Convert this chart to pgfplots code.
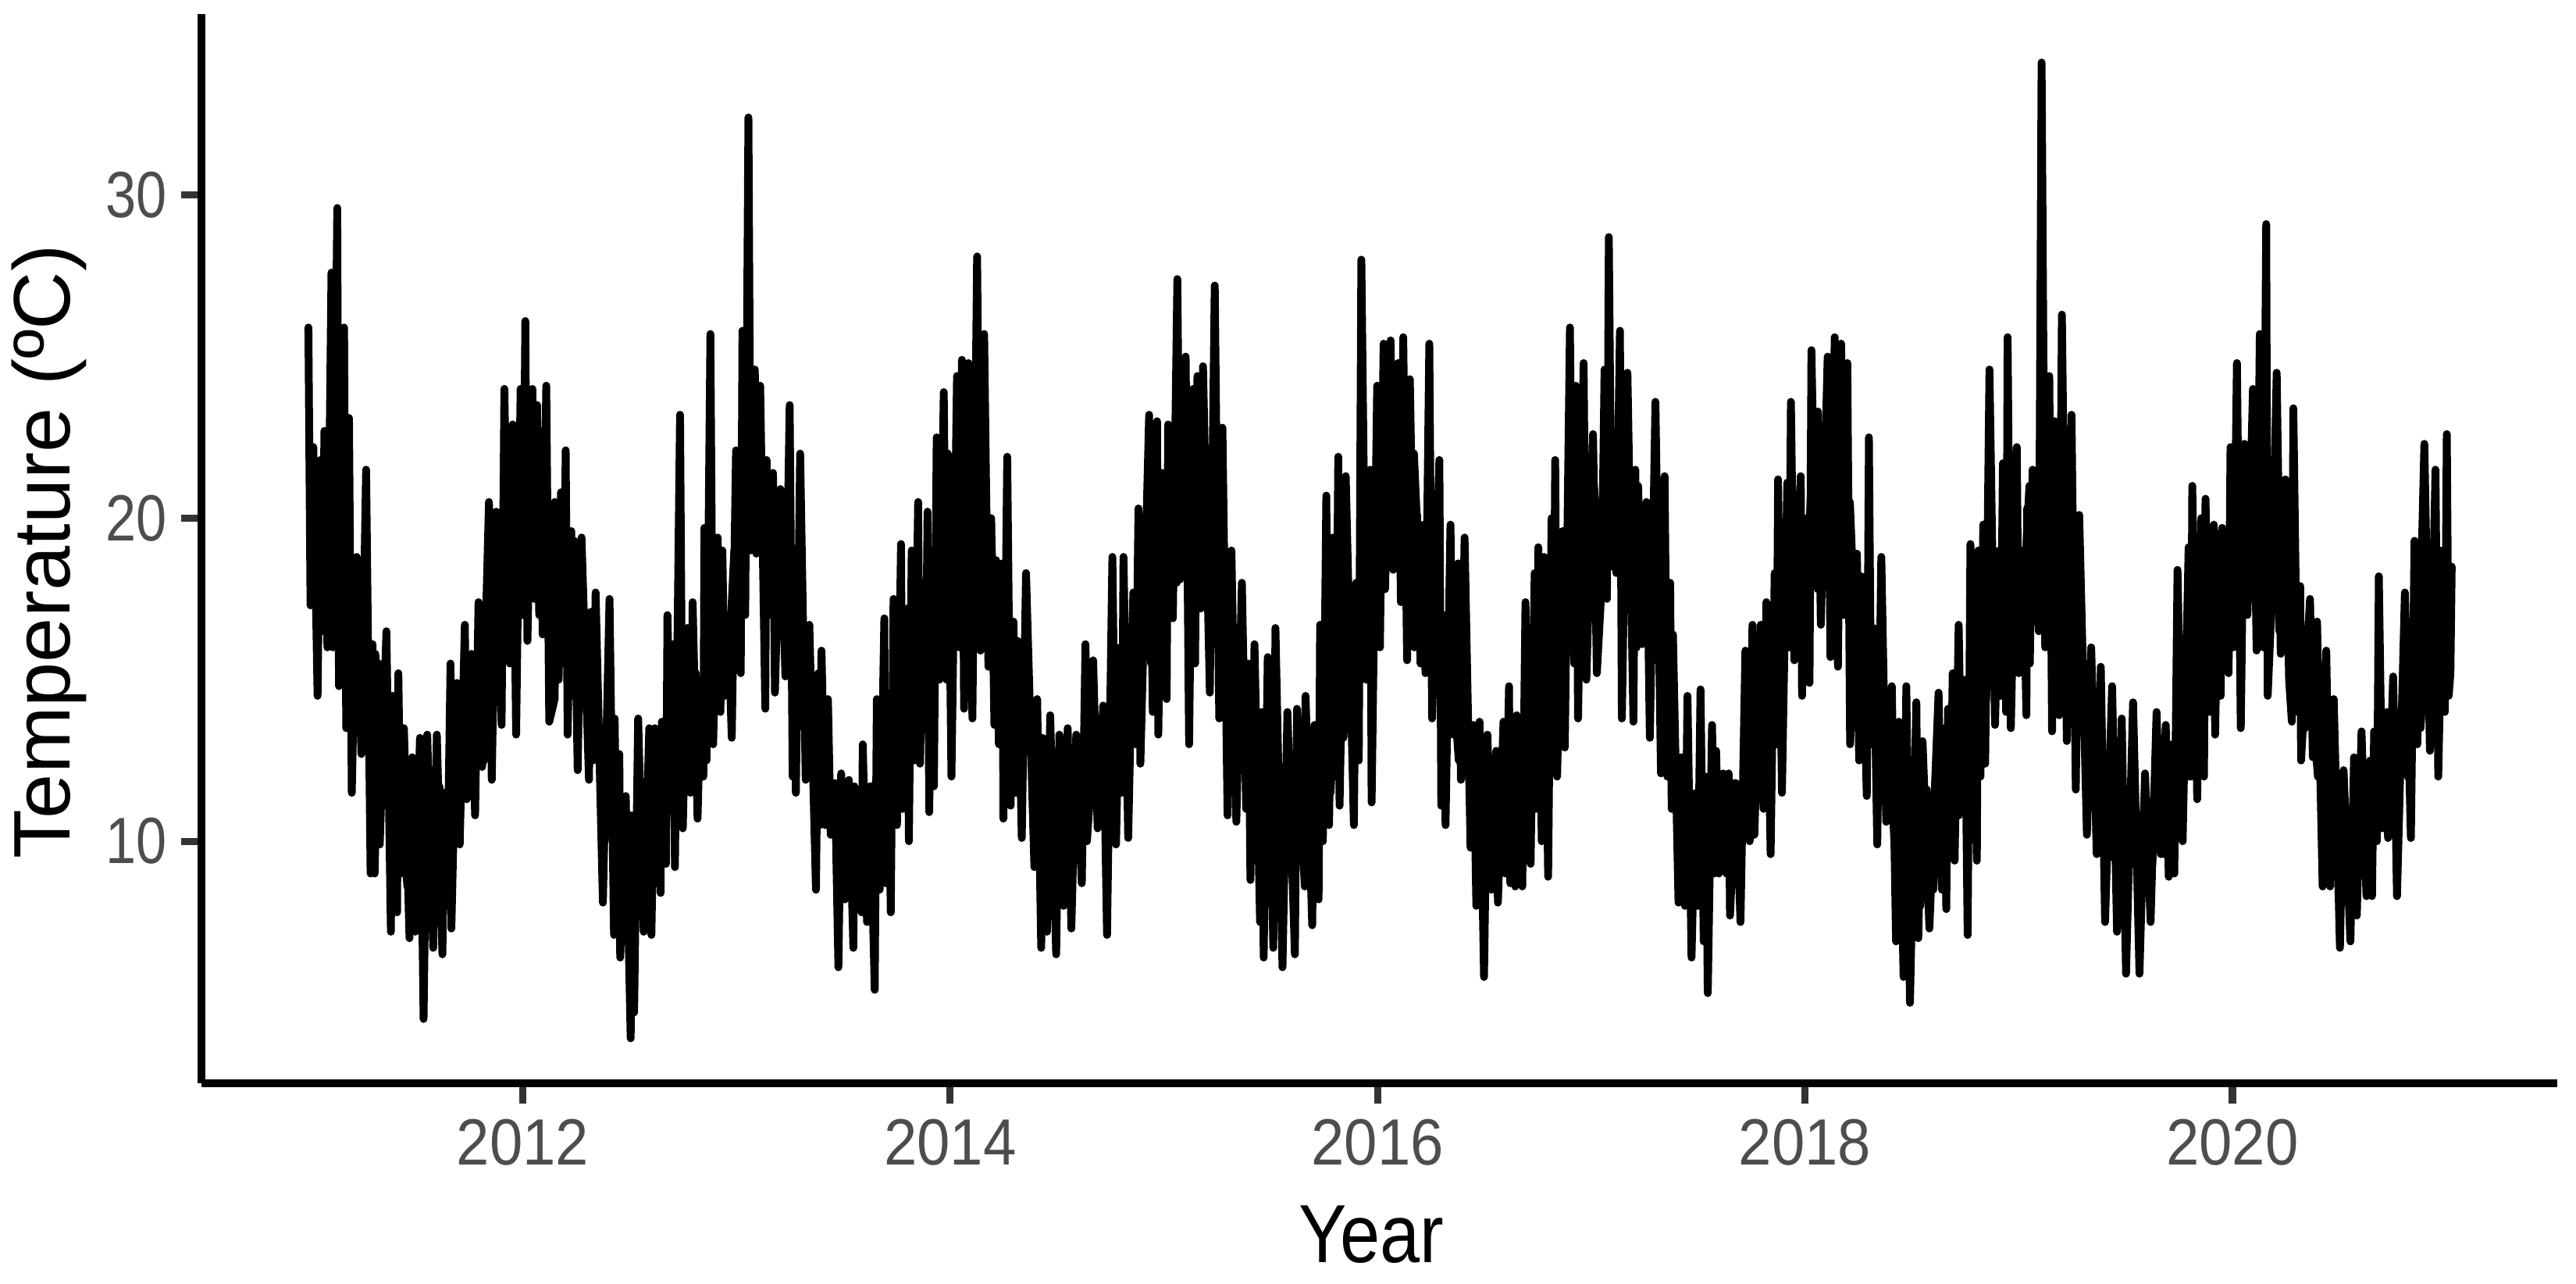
\documentclass[border=0pt]{standalone}
\usepackage{fontspec}
\setmainfont{Liberation Sans}
\usepackage{pgfplots}
\pgfplotsset{compat=1.18}
\definecolor{tickgrey}{HTML}{333333}
\definecolor{labelgrey}{HTML}{4D4D4D}
\begin{document}
\begin{tikzpicture}
\useasboundingbox (-64.5bp,-64.25bp) rectangle (760.25bp,346.75bp);
\begin{axis}[
    scale only axis,
    width=754.25bp, height=342.25bp,
    xmin=2010.4966, xmax=2021.52,
    ymin=2.51, ymax=35.6,
    axis lines*=left,
    axis line style={-, line width=2.6bp, black},
    xtick={2012,2014,2016,2018,2020},
    ytick={10,20,30},
    tick align=outside,
    major tick length=6.5bp,
    tick style={color=tickgrey, line width=2.3bp},
    /pgf/number format/assume math mode=true,
    /pgf/number format/1000 sep={},
    x tick label style={font=\fontsize{21}{21}\selectfont, text=labelgrey, xscale=0.91, yshift=-1.5bp},
    y tick label style={font=\fontsize{21}{21}\selectfont, text=labelgrey, xscale=0.84, xshift=-2bp},
    xlabel={Year},
    ylabel={Temperature (ºC)},
    xlabel style={font=\fontsize{26.5}{26.5}\selectfont, at={(rel axis cs:0.4965,-0.168)}, anchor=base, xscale=0.87},
    ylabel style={font=\fontsize{25.8}{25.8}\selectfont, at={(rel axis cs:-0.056,0.497)}, anchor=base},
]
% extremes of the daily trace
\addplot[black, line width=2.5bp, line join=round, line cap=round] coordinates {
(2010.997,25.9)(2011.007,17.3)(2011.020,22.2)(2011.040,14.5)(2011.053,21.8)(2011.062,16.5)(2011.072,22.7)(2011.086,16.0)
(2011.105,27.6)(2011.112,16.0)(2011.132,29.6)(2011.140,14.8)(2011.164,25.9)(2011.174,13.5)(2011.187,23.1)(2011.200,11.5)
(2011.223,18.8)(2011.245,12.7)(2011.267,21.5)(2011.288,9.0)(2011.297,16.1)(2011.307,9.0)(2011.327,15.5)(2011.331,9.9)
(2011.362,16.5)(2011.383,7.2)(2011.392,14.5)(2011.412,7.8)(2011.418,15.2)(2011.430,9.0)(2011.444,13.5)(2011.470,7.0)
(2011.483,12.6)(2011.497,7.2)(2011.519,13.2)(2011.536,4.5)(2011.553,13.3)(2011.581,6.7)(2011.598,13.3)(2011.624,6.5)
(2011.634,11.5)(2011.646,8.0)(2011.662,15.5)(2011.666,7.3)(2011.692,14.9)(2011.705,9.9)(2011.729,16.7)(2011.738,11.3)
(2011.760,15.8)(2011.777,10.8)(2011.793,17.4)(2011.810,12.3)(2011.842,20.5)(2011.855,11.9)(2011.876,20.2)(2011.901,13.6)
(2011.914,24.0)(2011.934,15.6)(2011.953,22.9)(2011.969,13.3)(2011.990,24.0)(2012.001,17.0)(2012.012,26.1)(2012.022,16.2)
(2012.045,24.0)(2012.054,17.5)(2012.067,23.5)(2012.077,17.0)(2012.084,22.7)(2012.093,16.4)(2012.110,24.1)(2012.124,13.7)
(2012.149,14.4)(2012.162,19.6)(2012.168,15.0)(2012.179,20.8)(2012.190,15.5)(2012.201,22.1)(2012.210,13.3)(2012.227,19.6)
(2012.234,14.5)(2012.240,19.3)(2012.257,12.2)(2012.275,19.4)(2012.310,11.9)(2012.319,17.1)(2012.329,12.5)(2012.341,17.7)
(2012.375,8.1)(2012.406,17.5)(2012.427,7.1)(2012.430,13.8)(2012.443,7.5)(2012.452,12.7)(2012.456,6.4)(2012.482,11.4)
(2012.505,3.9)(2012.514,10.7)(2012.521,4.7)(2012.540,13.8)(2012.566,7.2)(2012.592,13.5)(2012.602,7.1)(2012.618,13.5)
(2012.645,8.4)(2012.651,13.7)(2012.670,9.3)(2012.677,17.0)(2012.697,11.0)(2012.705,16.1)(2012.712,9.2)(2012.736,23.2)
(2012.749,10.4)(2012.769,16.6)(2012.785,11.5)(2012.795,17.4)(2012.818,10.7)(2012.834,15.0)(2012.845,12.0)(2012.850,19.7)
(2012.860,12.5)(2012.878,25.7)(2012.891,13.0)(2012.912,19.4)(2012.925,14.0)(2012.934,19.0)(2012.945,14.5)(2012.960,17.0)
(2012.978,13.2)(2012.998,22.1)(2013.020,15.2)(2013.028,25.8)(2013.041,17.0)(2013.056,32.4)(2013.067,19.0)(2013.086,24.6)
(2013.093,18.9)(2013.111,24.1)(2013.135,14.1)(2013.141,21.8)(2013.154,17.0)(2013.171,21.4)(2013.180,14.6)(2013.206,20.9)
(2013.229,15.1)(2013.249,23.5)(2013.263,12.0)(2013.270,18.0)(2013.278,11.5)(2013.298,22.0)(2013.324,11.9)(2013.341,16.7)
(2013.372,8.5)(2013.383,15.2)(2013.390,10.5)(2013.398,15.9)(2013.415,10.5)(2013.428,14.4)(2013.441,10.2)(2013.461,11.8)
(2013.477,6.1)(2013.490,12.1)(2013.507,8.2)(2013.526,11.9)(2013.547,6.7)(2013.552,11.7)(2013.585,7.8)(2013.591,13.0)
(2013.611,7.5)(2013.624,11.7)(2013.647,5.4)(2013.657,14.4)(2013.670,8.5)(2013.692,16.9)(2013.698,8.7)(2013.710,14.0)
(2013.722,7.8)(2013.735,17.5)(2013.751,10.5)(2013.770,19.2)(2013.777,11.0)(2013.798,17.2)(2013.807,10.0)(2013.820,19.0)
(2013.833,12.5)(2013.850,20.5)(2013.859,12.4)(2013.875,18.0)(2013.885,13.5)(2013.894,20.2)(2013.902,10.9)(2013.915,18.0)
(2013.924,11.7)(2013.937,22.5)(2013.950,15.0)(2013.970,23.9)(2013.983,15.0)(2013.989,22.0)(2014.006,12.0)(2014.032,24.4)
(2014.042,16.0)(2014.055,24.9)(2014.065,14.1)(2014.085,24.8)(2014.104,13.8)(2014.126,28.1)(2014.142,15.9)(2014.159,25.7)
(2014.179,15.4)(2014.192,20.0)(2014.207,13.6)(2014.215,18.7)(2014.228,13.0)(2014.244,18.6)(2014.249,10.7)(2014.267,21.9)
(2014.283,11.1)(2014.296,16.8)(2014.306,11.5)(2014.316,16.2)(2014.335,10.1)(2014.355,18.3)(2014.394,9.2)(2014.407,14.4)
(2014.426,6.7)(2014.433,13.2)(2014.453,7.2)(2014.468,13.9)(2014.496,6.5)(2014.511,13.3)(2014.531,8.0)(2014.550,13.5)
(2014.567,7.3)(2014.590,13.3)(2014.616,8.7)(2014.633,16.1)(2014.648,11.0)(2014.669,15.6)(2014.690,10.4)(2014.716,14.2)
(2014.734,7.1)(2014.759,18.8)(2014.776,9.9)(2014.795,16.0)(2014.803,11.5)(2014.811,18.8)(2014.833,10.1)(2014.857,17.7)
(2014.868,13.0)(2014.881,20.3)(2014.890,12.4)(2014.931,23.2)(2014.948,14.0)(2014.968,23.0)(2014.974,13.3)(2014.990,21.4)
(2015.013,14.4)(2015.020,22.9)(2015.042,16.9)(2015.063,27.4)(2015.076,18.1)(2015.102,25.0)(2015.118,13.0)(2015.137,24.0)
(2015.146,15.5)(2015.157,24.4)(2015.172,17.2)(2015.183,24.7)(2015.215,14.6)(2015.238,27.2)(2015.259,13.8)(2015.274,22.8)
(2015.298,10.8)(2015.316,19.0)(2015.339,10.6)(2015.365,18.0)(2015.385,11.0)(2015.395,15.5)(2015.405,8.8)(2015.424,16.1)
(2015.450,7.5)(2015.458,14.0)(2015.467,6.4)(2015.486,15.7)(2015.512,6.7)(2015.522,16.6)(2015.555,6.1)(2015.578,14.0)
(2015.613,6.5)(2015.623,14.1)(2015.659,8.6)(2015.663,14.5)(2015.694,7.4)(2015.705,13.6)(2015.724,8.2)(2015.731,16.7)
(2015.744,10.0)(2015.760,20.7)(2015.773,10.5)(2015.790,19.4)(2015.803,12.0)(2015.816,21.9)(2015.822,11.1)(2015.851,21.3)
(2015.889,10.5)(2015.900,18.0)(2015.912,12.5)(2015.924,28.0)(2015.946,15.0)(2015.966,21.5)(2015.972,11.2)(2015.998,24.1)
(2016.011,16.0)(2016.028,25.4)(2016.035,17.8)(2016.061,25.5)(2016.073,18.4)(2016.096,24.8)(2016.109,17.4)(2016.120,25.6)
(2016.138,15.6)(2016.151,24.3)(2016.172,16.0)(2016.185,20.1)(2016.201,15.5)(2016.216,19.8)(2016.224,15.2)(2016.242,25.4)
(2016.255,13.8)(2016.289,21.8)(2016.298,11.1)(2016.310,17.0)(2016.318,10.5)(2016.341,19.8)(2016.354,13.3)(2016.377,18.6)
(2016.390,11.9)(2016.407,19.4)(2016.435,9.8)(2016.448,13.6)(2016.462,8.0)(2016.477,13.7)(2016.498,5.8)(2016.514,13.3)
(2016.533,8.5)(2016.555,12.8)(2016.563,8.1)(2016.589,13.7)(2016.598,9.0)(2016.615,14.8)(2016.621,8.7)(2016.635,13.5)
(2016.644,8.6)(2016.651,13.9)(2016.677,8.6)(2016.692,17.4)(2016.716,9.3)(2016.735,18.3)(2016.742,11.0)(2016.752,19.1)
(2016.768,10.0)(2016.779,18.8)(2016.798,8.9)(2016.814,20.0)(2016.822,13.0)(2016.831,21.8)(2016.840,12.0)(2016.866,19.6)
(2016.876,12.9)(2016.900,25.9)(2016.912,17.0)(2016.927,24.1)(2016.938,13.8)(2016.964,24.8)(2016.977,15.0)(2017.008,22.6)
(2017.026,15.2)(2017.049,18.0)(2017.062,24.6)(2017.073,17.5)(2017.082,28.7)(2017.095,18.5)(2017.105,22.0)(2017.117,18.3)
(2017.134,25.8)(2017.143,13.8)(2017.169,24.5)(2017.197,13.7)(2017.206,21.5)(2017.212,16.0)(2017.219,21.0)(2017.238,16.1)
(2017.258,20.5)(2017.274,13.2)(2017.300,23.6)(2017.326,12.1)(2017.343,21.3)(2017.356,12.0)(2017.369,18.0)(2017.376,11.0)
(2017.382,16.4)(2017.408,8.1)(2017.421,12.6)(2017.438,8.0)(2017.450,14.5)(2017.469,6.4)(2017.486,11.3)(2017.498,8.0)
(2017.511,14.7)(2017.526,6.9)(2017.535,12.0)(2017.545,5.3)(2017.565,13.6)(2017.575,9.0)(2017.584,12.8)(2017.597,9.0)
(2017.617,12.1)(2017.632,9.0)(2017.643,12.1)(2017.649,7.7)(2017.676,11.8)(2017.698,7.5)(2017.721,15.9)(2017.741,10.0)
(2017.754,16.7)(2017.763,10.2)(2017.793,16.7)(2017.806,11.0)(2017.819,17.4)(2017.839,9.6)(2017.858,18.3)(2017.866,13.0)
(2017.874,21.2)(2017.892,11.5)(2017.917,21.1)(2017.926,16.0)(2017.934,23.6)(2017.950,15.6)(2017.980,21.3)(2017.986,14.5)
(2018.008,20.0)(2018.021,14.9)(2018.030,25.2)(2018.047,19.0)(2018.060,23.3)(2018.074,16.7)(2018.106,25.0)(2018.119,15.7)
(2018.139,25.6)(2018.154,15.4)(2018.169,25.4)(2018.184,18.0)(2018.198,24.8)(2018.211,13.0)(2018.243,18.9)(2018.253,12.5)
(2018.263,18.2)(2018.289,11.4)(2018.299,22.5)(2018.310,13.0)(2018.321,16.6)(2018.338,9.9)(2018.357,18.8)(2018.380,10.6)
(2018.406,14.8)(2018.426,6.9)(2018.439,13.7)(2018.461,5.8)(2018.474,14.8)(2018.491,5.0)(2018.521,14.3)(2018.530,7.0)
(2018.550,13.1)(2018.582,7.3)(2018.625,14.6)(2018.641,8.5)(2018.652,13.5)(2018.661,7.9)(2018.669,14.1)(2018.680,10.0)
(2018.691,15.2)(2018.700,9.4)(2018.719,16.7)(2018.733,11.2)(2018.748,15.0)(2018.761,7.1)(2018.774,19.2)(2018.804,9.4)
(2018.811,19.0)(2018.821,12.0)(2018.834,19.8)(2018.843,12.4)(2018.863,24.6)(2018.889,13.6)(2018.909,19.0)(2018.915,14.5)
(2018.926,21.7)(2018.941,14.0)(2018.948,25.6)(2018.963,13.5)(2018.991,22.2)(2019.000,15.2)(2019.020,19.0)(2019.036,13.9)
(2019.039,20.3)(2019.052,15.5)(2019.065,21.5)(2019.094,16.5)(2019.107,34.1)(2019.124,16.0)(2019.143,24.4)(2019.156,13.4)
(2019.168,23.0)(2019.176,18.0)(2019.189,13.9)(2019.202,26.3)(2019.225,13.1)(2019.247,23.2)(2019.267,11.6)(2019.283,20.1)
(2019.319,10.2)(2019.339,16.0)(2019.365,9.6)(2019.384,15.4)(2019.404,7.5)(2019.437,14.8)(2019.460,7.2)(2019.482,13.8)
(2019.502,5.9)(2019.535,14.3)(2019.565,5.9)(2019.591,12.1)(2019.617,7.5)(2019.645,14.0)(2019.665,9.6)(2019.688,13.6)
(2019.702,8.9)(2019.717,13.0)(2019.728,9.0)(2019.743,18.4)(2019.767,10.0)(2019.795,19.1)(2019.805,12.0)(2019.812,21.0)
(2019.835,11.3)(2019.854,20.0)(2019.867,12.0)(2019.874,20.6)(2019.893,14.0)(2019.913,19.8)(2019.919,13.3)(2019.935,19.5)
(2019.945,14.5)(2019.952,19.7)(2019.982,15.2)(2019.991,22.2)(2020.004,16.0)(2020.021,24.8)(2020.039,13.5)(2020.056,22.3)
(2020.070,17.0)(2020.096,24.0)(2020.113,15.9)(2020.128,25.7)(2020.144,16.0)(2020.158,29.1)(2020.165,14.5)(2020.187,18.0)
(2020.207,24.5)(2020.226,15.8)(2020.248,21.2)(2020.265,15.0)(2020.278,13.7)(2020.285,23.4)(2020.304,14.0)(2020.317,17.9)
(2020.321,12.5)(2020.363,17.5)(2020.376,12.6)(2020.396,16.8)(2020.422,8.6)(2020.439,15.9)(2020.457,8.6)(2020.474,14.4)
(2020.503,6.7)(2020.520,12.2)(2020.552,6.9)(2020.569,12.6)(2020.582,7.7)(2020.604,13.4)(2020.627,8.3)(2020.644,12.5)
(2020.653,8.3)(2020.663,13.4)(2020.676,10.0)(2020.685,18.2)(2020.702,10.4)(2020.722,14.0)(2020.728,10.1)(2020.752,15.1)
(2020.770,8.3)(2020.807,17.7)(2020.835,10.1)(2020.852,19.3)(2020.865,13.0)(2020.898,22.3)(2020.924,12.8)(2020.950,21.5)
(2020.963,12.0)(2020.985,19.0)(2020.994,14.0)(2021.003,22.6)(2021.012,14.5)(2021.020,15.2)(2021.026,18.5)
};
% solid middle of the daily trace
\addplot[black, line width=2.5bp, line join=round, line cap=round] coordinates {
(2011.01,21.0)(2011.04,17.5)(2011.07,21.3)(2011.10,17.4)(2011.13,21.2)(2011.16,17.5)(2011.19,19.0)(2011.22,14.8)(2011.25,16.5)(2011.28,13.2)
(2011.31,15.8)(2011.34,12.6)(2011.37,14.0)(2011.40,10.2)(2011.43,11.7)(2011.46,8.6)(2011.49,11.5)(2011.52,8.4)(2011.55,11.6)(2011.58,8.3)
(2011.61,11.7)(2011.64,8.8)(2011.67,12.4)(2011.70,10.0)(2011.73,14.0)(2011.76,11.7)(2011.79,14.4)(2011.82,12.5)(2011.85,16.8)(2011.88,14.3)
(2011.91,17.0)(2011.94,15.5)(2011.97,19.0)(2012.00,17.0)(2012.03,20.6)(2012.06,17.8)(2012.09,20.8)(2012.12,17.2)(2012.15,20.5)(2012.18,17.0)
(2012.21,19.4)(2012.24,15.5)(2012.27,17.0)(2012.30,14.0)(2012.33,16.2)(2012.36,13.0)(2012.39,13.5)(2012.42,10.0)(2012.45,10.8)(2012.48,8.6)
(2012.51,10.8)(2012.54,8.5)(2012.57,10.9)(2012.60,8.7)(2012.63,11.2)(2012.66,9.5)(2012.69,12.5)(2012.72,10.8)(2012.75,14.0)(2012.78,12.2)
(2012.81,15.2)(2012.84,13.0)(2012.87,15.5)(2012.90,14.2)(2012.93,16.5)(2012.96,15.0)(2012.99,19.0)(2013.02,17.0)(2013.05,22.5)(2013.08,19.2)
(2013.11,22.0)(2013.14,18.6)(2013.17,20.8)(2013.20,17.0)(2013.23,19.2)(2013.26,15.0)(2013.29,16.5)(2013.32,13.5)(2013.35,15.0)(2013.38,12.0)
(2013.41,12.8)(2013.44,10.5)(2013.47,11.5)(2013.50,9.0)(2013.53,11.3)(2013.56,8.9)(2013.59,11.3)(2013.62,9.2)(2013.65,11.8)(2013.68,10.2)
(2013.71,13.2)(2013.74,11.5)(2013.77,14.5)(2013.80,12.5)(2013.83,15.8)(2013.86,13.6)(2013.89,16.8)(2013.92,15.0)(2013.95,18.5)(2013.98,16.0)
(2014.01,20.0)(2014.04,17.5)(2014.07,21.5)(2014.10,18.0)(2014.13,21.8)(2014.16,17.3)(2014.19,19.5)(2014.22,16.0)(2014.25,17.8)(2014.28,14.5)
(2014.31,15.8)(2014.34,13.0)(2014.37,13.8)(2014.40,11.2)(2014.43,12.5)(2014.46,10.0)(2014.49,12.2)(2014.52,9.8)(2014.55,12.3)(2014.58,10.0)
(2014.61,12.3)(2014.64,10.0)(2014.67,13.0)(2014.70,10.8)(2014.73,13.5)(2014.76,11.5)(2014.79,15.0)(2014.82,12.5)(2014.85,16.2)(2014.88,14.0)
(2014.91,17.5)(2014.94,15.5)(2014.97,19.5)(2015.00,17.0)(2015.03,21.5)(2015.06,18.0)(2015.09,22.0)(2015.12,18.2)(2015.15,21.8)(2015.18,17.8)
(2015.21,20.5)(2015.24,16.5)(2015.27,18.0)(2015.30,14.5)(2015.33,16.0)(2015.36,13.0)(2015.39,13.5)(2015.42,10.0)(2015.45,11.8)(2015.48,8.8)
(2015.51,11.3)(2015.54,8.6)(2015.57,11.5)(2015.60,8.9)(2015.63,11.6)(2015.66,9.5)(2015.69,12.3)(2015.72,10.5)(2015.75,14.5)(2015.78,11.5)
(2015.81,16.0)(2015.84,13.2)(2015.87,17.0)(2015.90,14.5)(2015.93,18.8)(2015.96,16.5)(2015.99,20.5)(2016.02,18.2)(2016.05,22.5)(2016.08,18.8)
(2016.11,22.5)(2016.14,18.5)(2016.17,22.0)(2016.20,17.5)(2016.23,19.0)(2016.26,15.5)(2016.29,17.0)(2016.32,14.0)(2016.35,15.2)(2016.38,12.5)
(2016.41,13.5)(2016.44,11.0)(2016.47,12.2)(2016.50,9.8)(2016.53,12.0)(2016.56,10.0)(2016.59,12.3)(2016.62,10.0)(2016.65,12.4)(2016.68,10.5)
(2016.71,13.8)(2016.74,11.8)(2016.77,15.5)(2016.80,12.8)(2016.83,16.8)(2016.86,14.5)(2016.89,18.2)(2016.92,15.5)(2016.95,20.0)(2016.98,18.0)
(2017.01,21.2)(2017.04,18.8)(2017.07,22.0)(2017.10,18.8)(2017.13,21.5)(2017.16,18.5)(2017.19,20.8)(2017.22,17.0)(2017.25,19.0)(2017.28,15.5)
(2017.31,17.0)(2017.34,13.8)(2017.37,15.0)(2017.40,11.8)(2017.43,12.5)(2017.46,10.0)(2017.49,11.5)(2017.52,9.5)(2017.55,11.5)(2017.58,9.8)
(2017.61,11.6)(2017.64,9.8)(2017.67,11.8)(2017.70,10.3)(2017.73,13.5)(2017.76,11.5)(2017.79,15.5)(2017.82,13.0)(2017.85,16.5)(2017.88,15.0)
(2017.91,18.0)(2017.94,16.5)(2017.97,19.5)(2018.00,17.0)(2018.03,21.0)(2018.06,17.8)(2018.09,21.5)(2018.12,17.5)(2018.15,21.8)(2018.18,17.0)
(2018.21,20.5)(2018.24,15.5)(2018.27,17.5)(2018.30,14.0)(2018.33,15.5)(2018.36,12.5)(2018.39,13.5)(2018.42,9.8)(2018.45,11.5)(2018.48,8.3)
(2018.51,11.5)(2018.54,8.0)(2018.57,11.6)(2018.60,8.5)(2018.63,11.8)(2018.66,9.5)(2018.69,13.0)(2018.72,10.8)(2018.75,14.2)(2018.78,11.5)
(2018.81,15.5)(2018.84,13.5)(2018.87,17.2)(2018.90,15.0)(2018.93,18.5)(2018.96,16.0)(2018.99,19.5)(2019.02,17.2)(2019.05,21.0)(2019.08,17.5)
(2019.11,21.5)(2019.14,17.5)(2019.17,21.3)(2019.20,16.5)(2019.23,19.0)(2019.26,14.5)(2019.29,16.0)(2019.32,13.0)(2019.35,14.0)(2019.38,11.8)
(2019.41,12.3)(2019.44,9.5)(2019.47,11.5)(2019.50,8.5)(2019.53,11.5)(2019.56,8.6)(2019.59,11.4)(2019.62,9.0)(2019.65,11.2)(2019.68,9.6)
(2019.71,12.0)(2019.74,10.5)(2019.77,14.0)(2019.80,12.0)(2019.83,15.5)(2019.86,13.5)(2019.89,17.0)(2019.92,15.0)(2019.95,18.0)(2019.98,16.5)
(2020.01,20.0)(2020.04,17.0)(2020.07,21.5)(2020.10,17.5)(2020.13,21.5)(2020.16,17.5)(2020.19,21.0)(2020.22,16.5)(2020.25,19.5)(2020.28,15.0)
(2020.31,17.0)(2020.34,13.5)(2020.37,14.5)(2020.40,12.0)(2020.43,12.5)(2020.46,9.8)(2020.49,11.3)(2020.52,9.0)(2020.55,11.0)(2020.58,9.0)
(2020.61,11.0)(2020.64,9.3)(2020.67,11.5)(2020.70,10.5)(2020.73,13.0)(2020.76,11.0)(2020.79,14.0)(2020.82,12.0)(2020.85,15.0)(2020.88,13.5)
(2020.91,17.0)(2020.94,15.0)(2020.97,19.0)(2021.00,16.0)(2021.02,18.5)
};
\end{axis}
\end{tikzpicture}
\end{document}
